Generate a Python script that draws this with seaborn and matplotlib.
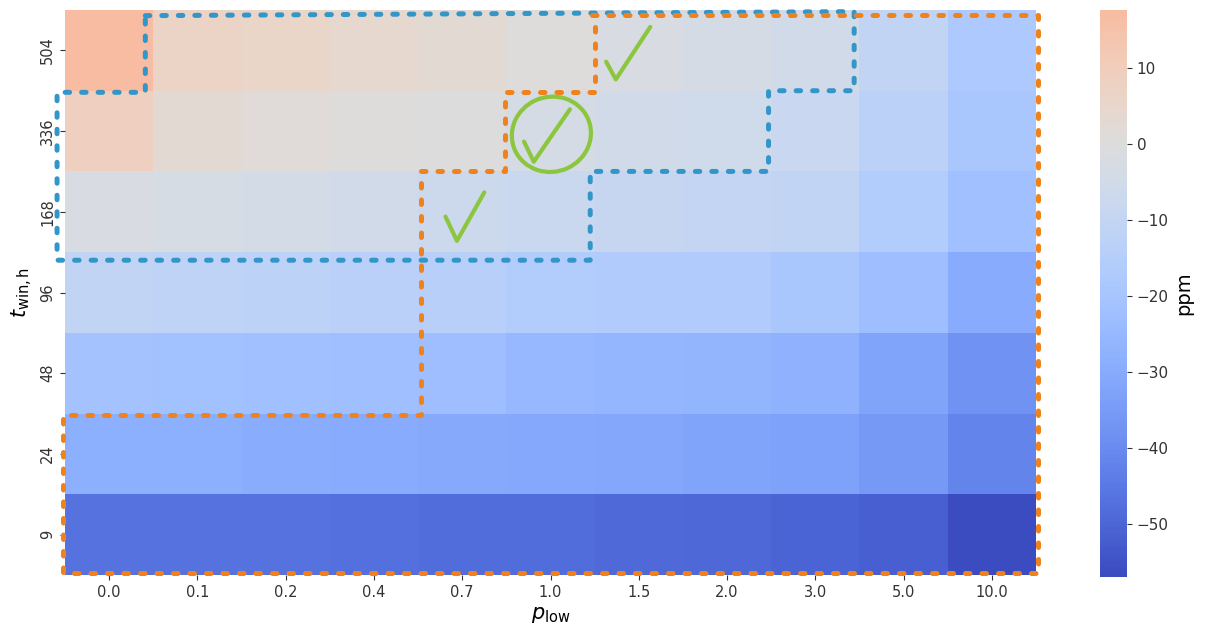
import numpy as np
import pandas as pd
import matplotlib
matplotlib.use("Agg")
import matplotlib.pyplot as plt
import seaborn as sns
from matplotlib.patches import Ellipse

# ---------------- data ----------------
p_low = ["0.0", "0.1", "0.2", "0.4", "0.7", "1.0", "1.5", "2.0", "3.0", "5.0", "10.0"]
t_win = ["504", "336", "168", "96", "48", "24", "9"]

row_504 = [17.6, 7.0, 6.0, 4.0, 2.5, 0.5, -2.0, -3.5, -5.0, -11.0, -18.0]
row_336 = [9.0, 2.5, 1.5, 0.5, 0.0, -3.5, -5.0, -5.5, -8.5, -13.0, -19.0]
row_168 = [-2.0, -3.0, -4.0, -5.0, -7.0, -8.0, -9.0, -10.0, -11.0, -16.0, -22.0]
row_96 = [-11.0, -12.0, -12.5, -13.5, -14.5, -16.0, -16.5, -17.0, -19.5, -23.0, -30.0]
row_48 = [-21.0, -21.5, -22.0, -22.5, -23.0, -25.0, -26.0, -26.5, -28.0, -32.0, -38.0]
row_24 = [-29.0, -29.0, -29.5, -30.0, -30.5, -31.0, -31.5, -32.0, -33.0, -36.0, -42.0]
row_9 = [-47.0, -47.0, -47.0, -47.5, -48.0, -48.5, -49.0, -49.5, -50.5, -52.0, -57.0]

cbar_ticks = [-50, -40, -30, -20, -10, 0, 10]

# hand-drawn annotation outlines (in heatmap cell units)
blue_x = [0.91, 8.94, 8.94, 7.97, 7.97, 5.95, 5.95, -0.09, -0.09, 0.91, 0.91]
blue_y = [0.07, 0.02, 1.00, 1.00, 2.00, 2.00, 3.10, 3.10, 1.02, 1.02, 0.07]
orange_x = [5.97, 11.02, 11.02, -0.02, -0.02, 4.03, 4.03, 4.99, 4.99, 6.00, 6.00]
orange_y = [0.06, 0.06, 6.97, 6.97, 5.02, 5.02, 2.00, 2.00, 1.02, 1.02, 0.06]
checks = [
    ([6.13, 6.24, 6.63], [0.64, 0.86, 0.21]),
    ([5.20, 5.31, 5.72], [1.63, 1.88, 1.23]),
    ([4.31, 4.44, 4.75], [2.56, 2.86, 2.26]),
]
circle_center = (5.51, 1.54)
circle_size = (0.89, 0.94)

df = pd.DataFrame([row_504, row_336, row_168, row_96, row_48, row_24, row_9],
                  index=t_win, columns=p_low)

W, H = 1206, 627
fig = plt.figure(figsize=(W / 100, H / 100), dpi=100)
ax = fig.add_axes([65 / W, 1 - 575 / H, 971 / W, 565 / H])
cax = fig.add_axes([1100 / W, 1 - 577 / H, 27 / W, 567 / H])

sns.heatmap(df, cmap="coolwarm", center=0, ax=ax, cbar_ax=cax,
            cbar_kws={"label": "ppm", "ticks": cbar_ticks})

ax.set_xlabel(r"$p_{\mathrm{low}}$", fontsize=15, labelpad=4)
ax.set_ylabel(r"$t_{\mathrm{win,h}}$", fontsize=15, labelpad=4)
ax.tick_params(axis="both", labelsize=10.5, colors="#333333", labelcolor="#333333")
plt.setp(ax.get_xticklabels(), rotation=0)
plt.setp(ax.get_yticklabels(), rotation=90, va="center")

cax.tick_params(labelsize=11, colors="#333333", labelcolor="#333333")
cax.yaxis.label.set_size(14)

blue = "#3396c8"
orange = "#f0821e"
green = "#8cc63e"
ax.plot(blue_x, blue_y, color=blue, lw=3.6, dashes=(0.9, 2.4),
        dash_capstyle="round", solid_capstyle="round", clip_on=False, zorder=5)
ax.plot(orange_x, orange_y, color=orange, lw=3.6, dashes=(0.9, 2.4),
        dash_capstyle="round", solid_capstyle="round", clip_on=False, zorder=6)
for cx, cy in checks:
    ax.plot(cx, cy, color=green, lw=3.0, solid_capstyle="round",
            solid_joinstyle="round", zorder=7)
ax.add_patch(Ellipse(circle_center, circle_size[0], circle_size[1], angle=20,
                     fill=False, edgecolor=green, lw=3.0, zorder=7))

fig.savefig("out.png", dpi=100)
